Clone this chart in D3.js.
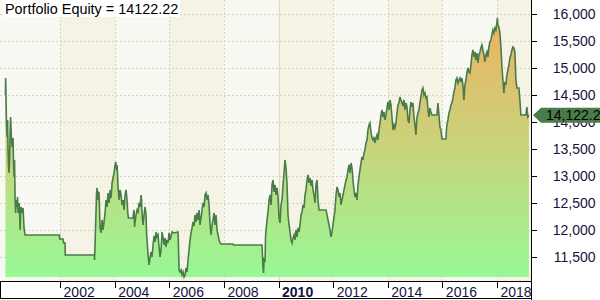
<!DOCTYPE html>
<html lang="en">
<head>
<meta charset="UTF-8">
<title>Portfolio Equity</title>
<script src="https://cdn.jsdelivr.net/npm/d3@7"></script>
<style>
  body { margin: 0; background: #fff; }
  svg { display: block; font-family: "Liberation Sans", Arial, sans-serif; }
  .yaxis text, .xaxis text { font-size: 14px; fill: #14143c; }
  .yaxis path, .xaxis path { display: none; }
  .yaxis line, .xaxis line { stroke: #000; shape-rendering: crispEdges; }
</style>
</head>
<body>
<script>
// equity curve, decimal year / value
var years = [
  2000.000, 2000.007, 2000.022, 2000.040, 2000.059, 2000.077, 2000.095, 2000.114, 2000.132, 2000.150,
  2000.168, 2000.187, 2000.205, 2000.223, 2000.242, 2000.278, 2000.297, 2000.315, 2000.333, 2000.352,
  2000.370, 2000.388, 2000.425, 2000.443, 2000.461, 2000.498, 2000.516, 2000.535, 2000.553, 2000.571,
  2000.608, 2000.644, 2000.681, 2000.718,
  2001.977, 2001.985, 2002.110, 2002.128, 2002.183, 2002.190, 2003.256, 2003.263, 2003.282, 2003.300,
  2003.336, 2003.355, 2003.373, 2003.391, 2003.428, 2003.464, 2003.501, 2003.538, 2003.574, 2003.611,
  2003.647, 2003.684, 2003.721, 2003.757, 2003.794, 2003.830, 2003.867, 2003.904, 2003.940, 2003.977,
  2004.014, 2004.039, 2004.069, 2004.087, 2004.105, 2004.124, 2004.160, 2004.197, 2004.233, 2004.270,
  2004.307, 2004.343, 2004.380, 2004.416, 2004.453, 2004.479, 2004.501, 2004.673, 2004.691, 2004.709,
  2004.728, 2004.746, 2004.783, 2004.819, 2004.856, 2004.893, 2004.929, 2004.966, 2004.984, 2005.002,
  2005.039, 2005.076, 2005.112, 2005.149, 2005.167, 2005.186, 2005.222, 2005.259, 2005.295, 2005.332,
  2005.369, 2005.405, 2005.442, 2005.479, 2005.515, 2005.552, 2005.588, 2005.625, 2005.662, 2005.698,
  2005.735, 2005.772, 2005.808, 2005.845, 2005.881, 2005.918, 2005.955, 2005.991, 2006.028, 2006.064,
  2006.101, 2006.174, 2006.321, 2006.339, 2006.357, 2006.394, 2006.431, 2006.467, 2006.504, 2006.540,
  2006.577, 2006.614, 2006.650, 2006.687, 2006.723, 2006.760, 2006.797, 2006.833, 2006.870, 2006.907,
  2006.943, 2006.980, 2007.016, 2007.053, 2007.090, 2007.126, 2007.163, 2007.199, 2007.236, 2007.273,
  2007.309, 2007.346, 2007.382, 2007.419, 2007.456, 2007.492, 2007.529, 2007.566, 2007.602, 2007.639,
  2007.675, 2007.712, 2007.749, 2007.785, 2007.822, 2007.858, 2007.895, 2008.334, 2008.352, 2009.396,
  2009.414, 2009.433, 2009.451, 2009.469, 2009.506, 2009.524, 2009.543, 2009.579, 2009.616, 2009.653,
  2009.689, 2009.726, 2009.762, 2009.799, 2009.836, 2009.872, 2009.909, 2009.945, 2009.982, 2010.019,
  2010.055, 2010.092, 2010.129, 2010.165, 2010.202, 2010.238, 2010.275, 2010.312, 2010.348, 2010.385,
  2010.421, 2010.458, 2010.495, 2010.531, 2010.568, 2010.604, 2010.641, 2010.678, 2010.714, 2010.751,
  2010.787, 2010.824, 2010.861, 2010.897, 2010.934, 2010.970, 2011.007, 2011.044, 2011.080, 2011.117,
  2011.153, 2011.190, 2011.227, 2011.263, 2011.300, 2011.336, 2011.373, 2011.410, 2011.446, 2011.483,
  2011.519, 2011.739, 2011.776, 2011.812, 2011.849, 2011.885, 2011.922, 2011.959, 2011.995, 2012.032,
  2012.068, 2012.105, 2012.142, 2012.178, 2012.215, 2012.251, 2012.288, 2012.325, 2012.361, 2012.398,
  2012.434, 2012.471, 2012.508, 2012.544, 2012.581, 2012.617, 2012.654, 2012.691, 2012.727, 2012.764,
  2012.801, 2012.837, 2012.874, 2012.910, 2012.947, 2012.983, 2013.020, 2013.057, 2013.093, 2013.130,
  2013.166, 2013.203, 2013.240, 2013.276, 2013.313, 2013.349, 2013.386, 2013.423, 2013.459, 2013.496,
  2013.532, 2013.569, 2013.606, 2013.642, 2013.679, 2013.715, 2013.752, 2013.789, 2013.825, 2013.862,
  2013.898, 2013.935, 2013.972, 2014.008, 2014.045, 2014.081, 2014.118, 2014.155, 2014.191, 2014.228,
  2014.264, 2014.301, 2014.338, 2014.374, 2014.411, 2014.447, 2014.484, 2014.521, 2014.557, 2014.594,
  2014.630, 2014.667, 2014.704, 2014.740, 2014.777, 2014.813, 2014.850, 2014.887, 2014.923, 2014.960,
  2014.996, 2015.033, 2015.051, 2015.070, 2015.106, 2015.143, 2015.179, 2015.216, 2015.253, 2015.289,
  2015.326, 2015.362, 2015.399, 2015.436, 2015.472, 2015.509, 2015.545, 2015.582, 2015.619, 2015.802,
  2015.838, 2015.875, 2015.911, 2015.948, 2015.985, 2016.131, 2016.149, 2016.168, 2016.204, 2016.241,
  2016.277, 2016.314, 2016.351, 2016.387, 2016.424, 2016.460, 2016.497, 2016.534, 2016.570, 2016.607,
  2016.643, 2016.680, 2016.717, 2016.753, 2016.790, 2016.808, 2016.826, 2016.863, 2016.900, 2016.936,
  2016.973, 2017.009, 2017.046, 2017.083, 2017.119, 2017.156, 2017.192, 2017.229, 2017.266, 2017.302,
  2017.339, 2017.375, 2017.412, 2017.449, 2017.485, 2017.522, 2017.558, 2017.595, 2017.632, 2017.668,
  2017.705, 2017.741, 2017.778, 2017.815, 2017.851, 2017.888, 2017.924, 2017.961, 2017.998, 2018.016,
  2018.034, 2018.071, 2018.107, 2018.144, 2018.181, 2018.217, 2018.254, 2018.290, 2018.327, 2018.364,
  2018.400, 2018.437, 2018.473, 2018.510, 2018.547, 2018.583, 2018.620, 2018.656, 2018.693, 2018.730,
  2018.803, 2018.839, 2018.876, 2019.059, 2019.096, 2019.132, 2019.169
];
var equity = [
  14500, 14812, 14406, 13907, 13723, 14037, 13483, 13169, 13058, 13298,
  13760, 14092, 13889, 13667, 13538, 13704, 13206, 12984, 13298, 12615,
  12319, 12559, 12430, 12615, 12319, 12504, 12374, 12005, 12282, 12430,
  12319, 12411, 12042, 11913,
  11913, 11839, 11839, 11765, 11765, 11543, 11543, 11451, 11783, 12060,
  12688, 12781, 12559, 12707, 12688, 12042, 11950, 12190, 12005, 12153,
  12319, 12559, 12430, 12688, 12504, 12744, 12596, 12873, 12965, 13058,
  13206, 13261, 13113, 13206, 13021, 12799, 12559, 12744, 12651, 12467,
  12559, 12374, 12651, 12744, 12559, 12319, 12227, 12227, 12319, 12374,
  12060, 12153, 12282, 12374, 12337, 12504, 12430, 12651, 12559, 12319,
  12097, 12282, 12430, 12282, 11950, 11820, 11543, 11358, 11488, 11599,
  11506, 11728, 11894, 11783, 11968, 11876, 11913, 11691, 11506, 11636,
  11968, 11857, 11728, 11857, 11691, 11820, 11765, 11950, 11820, 11894,
  11968, 11950, 11968, 11636, 11266, 11229, 11266, 11174, 11229, 11137,
  11174, 11303, 11229, 11451, 11636, 11820, 11950, 12042, 12153, 12079,
  12282, 12153, 12319, 12190, 12374, 12097, 12227, 12374, 12504, 12430,
  12651, 12688, 12559, 12651, 12467, 12097, 11913, 12097, 12190, 12319,
  12097, 12282, 12005, 11913, 11820, 11765, 11746, 11746, 11728, 11728,
  11506, 11303, 11211, 11451, 11414, 11876, 12005, 12190, 12337, 12559,
  12651, 12467, 12836, 12928, 12707, 12836, 12651, 12781, 12615, 12227,
  12134, 12467, 12559, 12836, 13058, 13298, 13150, 12836, 12282, 12097,
  11968, 11820, 11765, 11857, 11913, 11820, 12005, 11876, 12042, 11968,
  12097, 12282, 12337, 12467, 12411, 12651, 12744, 12928, 13021, 12873,
  12965, 12818, 12928, 12744, 12651, 12504, 12836, 12928, 12559, 12374,
  12374, 12374, 12282, 12190, 12097, 12005, 11876, 11968, 12097, 12245,
  12374, 12651, 12799, 12744, 12615, 12688, 12467, 12559, 12651, 12744,
  12836, 12928, 12984, 13113, 13206, 13058, 13242, 13150, 12928, 12744,
  12615, 12688, 12559, 12836, 12984, 13113, 13242, 13353, 13298, 13427,
  13483, 13612, 13667, 13852, 13944, 13981, 13815, 13704, 13667, 13723,
  13612, 13704, 13760, 13667, 13852, 13981, 14129, 14221, 14092, 14184,
  14037, 14129, 14258, 14369, 14221, 14406, 14314, 14092, 13852, 13944,
  13889, 13981, 14166, 14314, 14351, 14461, 14406, 14351, 14314, 14406,
  14221, 14351, 14277, 14037, 13981, 14221, 14369, 14277, 14351, 14092,
  13944, 13760, 13944, 14074, 14166, 14221, 14351, 14461, 14591, 14628,
  14498, 14535, 14443, 14461, 14221, 14092, 14258, 14184, 14129, 14129,
  14351, 14129, 13907, 13852, 13686, 13686, 13852, 13944, 14037, 14166,
  14221, 14314, 14351, 14443, 14554, 14628, 14775, 14812, 14720, 14775,
  14812, 14738, 14812, 14683, 14406, 14554, 14683, 14775, 14905, 14997,
  14923, 14905, 15052, 15237, 15330, 15200, 15293, 15145, 15274, 15089,
  15237, 15293, 15366, 15422, 15330, 15237, 15108, 15237, 15293, 15200,
  15385, 15477, 15514, 15607, 15699, 15644, 15736, 15699, 15847, 15921,
  15791, 15754, 15644, 15385, 15016, 14775, 14535, 14738, 14683, 14868,
  14960, 15052, 15182, 15237, 15330, 15385, 15366, 15293, 14775, 14628,
  14628, 14406, 14129, 14129, 14277, 14092, 14122
];
var yTicks = [11500, 12000, 12500, 13000, 13500, 14000, 14500, 15000, 15500, 16000];
var xTicks = [2002, 2004, 2006, 2008, 2010, 2012, 2014, 2016, 2018];
var title = "Portfolio Equity = 14122.22";
var lastLabel = "14,122.2";

var width = 600, height = 300;
var plotL = 0, plotR = 531, plotT = 0, plotB = 281;

var svg = d3.select("body").append("svg")
    .attr("width", width)
    .attr("height", height);

var x = d3.scaleLinear().domain([1999.8, 2019.246]).range([plotL, plotR]);
var y = d3.scaleLinear().domain([11062, 16253]).range([plotB, plotT]);

var data = years.map(function(t, i){ return {t: t, v: equity[i]}; });
var vMin = d3.min(equity), vMax = d3.max(equity);

// plot background with 2-year bands
svg.append("rect")
    .attr("x", plotL).attr("y", plotT)
    .attr("width", plotR - plotL).attr("height", plotB - plotT)
    .attr("fill", "#f9f9f3");
var bandStarts = [2000].concat(xTicks);
svg.selectAll("rect.band")
    .data(bandStarts.filter(function(d, i){ return i % 2 == 1; }))
    .enter().append("rect")
    .attr("class", "band")
    .attr("x", function(d){ return x(d); })
    .attr("y", plotT)
    .attr("width", function(d){ return Math.min(x(d + 2), plotR) - x(d); })
    .attr("height", plotB - plotT)
    .attr("fill", "#f4f3e6");

// grid
svg.selectAll("line.hgrid")
    .data(yTicks).enter().append("line")
    .attr("class", "hgrid")
    .attr("x1", plotL).attr("x2", plotR)
    .attr("y1", function(d){ return Math.round(y(d)) + 0.5; })
    .attr("y2", function(d){ return Math.round(y(d)) + 0.5; })
    .attr("stroke", "#d6d6ba")
    .attr("stroke-dasharray", "2,2");
svg.selectAll("line.vgrid")
    .data(xTicks).enter().append("line")
    .attr("class", "vgrid")
    .attr("x1", function(d){ return Math.round(x(d)) + 0.5; })
    .attr("x2", function(d){ return Math.round(x(d)) + 0.5; })
    .attr("y1", plotT).attr("y2", plotB)
    .attr("stroke", function(d){ return d == 2010 ? "#dcdcc2" : "#d6d6ba"; })
    .attr("stroke-dasharray", function(d){ return d == 2010 ? null : "2,2"; });

// gradient fill under equity
var grad = svg.append("defs").append("linearGradient")
    .attr("id", "eqfill")
    .attr("gradientUnits", "userSpaceOnUse")
    .attr("x1", 0).attr("x2", 0)
    .attr("y1", y(vMax)).attr("y2", y(vMin));
grad.append("stop").attr("offset", "0%").attr("stop-color", "#eeb163");
grad.append("stop").attr("offset", "50%").attr("stop-color", "#c8d47c");
grad.append("stop").attr("offset", "100%").attr("stop-color", "#98f896");

var area = d3.area()
    .x(function(d){ return x(d.t); })
    .y0(y(vMin))
    .y1(function(d){ return y(d.v); });
var line = d3.line()
    .x(function(d){ return x(d.t); })
    .y(function(d){ return y(d.v); });

svg.append("path")
    .datum(data)
    .attr("d", area)
    .attr("fill", "url(#eqfill)");
svg.append("path")
    .datum(data)
    .attr("d", line)
    .attr("fill", "none")
    .attr("stroke", "#4a7c4a")
    .attr("stroke-width", 1.6)
    .attr("stroke-linejoin", "miter");

// title
var titleG = svg.append("g");
titleG.append("rect")
    .attr("x", 3).attr("y", 0).attr("width", 177).attr("height", 17)
    .attr("fill", "#fff");
titleG.append("text")
    .attr("x", 5).attr("y", 14)
    .attr("font-size", "14.4px")
    .attr("fill", "#000")
    .text(title);

// right value axis
var yAxis = d3.axisRight(y)
    .tickValues(yTicks)
    .tickSize(5)
    .tickFormat(d3.format(","));
var yg = svg.append("g")
    .attr("class", "yaxis")
    .attr("transform", "translate(" + (plotR + 0.5) + ",0)")
    .call(yAxis);
yg.selectAll("text")
    .attr("x", 64)
    .attr("text-anchor", "end");

// bottom date axis
var xAxis = d3.axisBottom(x)
    .tickValues(xTicks)
    .tickSize(6)
    .tickFormat(function(d){ return d; });
var xg = svg.append("g")
    .attr("class", "xaxis")
    .attr("transform", "translate(0," + (plotB + 0.5) + ")")
    .call(xAxis);
xg.selectAll("text")
    .attr("x", 3)
    .attr("y", 15)
    .attr("dy", 0)
    .attr("text-anchor", "start")
    .attr("font-weight", function(d){ return d == 2010 ? "bold" : null; });

// frame lines
svg.append("line")
    .attr("x1", 0).attr("x2", plotR)
    .attr("y1", plotB + 0.5).attr("y2", plotB + 0.5)
    .attr("stroke", "#000");
svg.append("line")
    .attr("x1", plotR + 0.5).attr("x2", plotR + 0.5)
    .attr("y1", 0).attr("y2", height)
    .attr("stroke", "#000");
svg.append("line")
    .attr("x1", 0.5).attr("x2", 0.5)
    .attr("y1", plotB).attr("y2", 299)
    .attr("stroke", "#000");
svg.append("line")
    .attr("x1", 0).attr("x2", plotR)
    .attr("y1", 298.5).attr("y2", 298.5)
    .attr("stroke", "#000");

// last value marker, drawn over the 14,000 label as in the original
var ly = y(equity[equity.length - 1]);
svg.append("path")
    .attr("d", "M" + (plotR + 2) + "," + ly + "L" + (plotR + 10) + "," + (ly - 7.5) +
          "L" + width + "," + (ly - 7.5) + "L" + width + "," + (ly + 7.5) +
          "L" + (plotR + 10) + "," + (ly + 7.5) + "Z")
    .attr("fill", "#4a7c4a");
svg.append("text")
    .attr("x", 546).attr("y", ly + 5)
    .attr("font-size", "14px")
    .attr("fill", "#000")
    .text(lastLabel);
</script>
</body>
</html>
